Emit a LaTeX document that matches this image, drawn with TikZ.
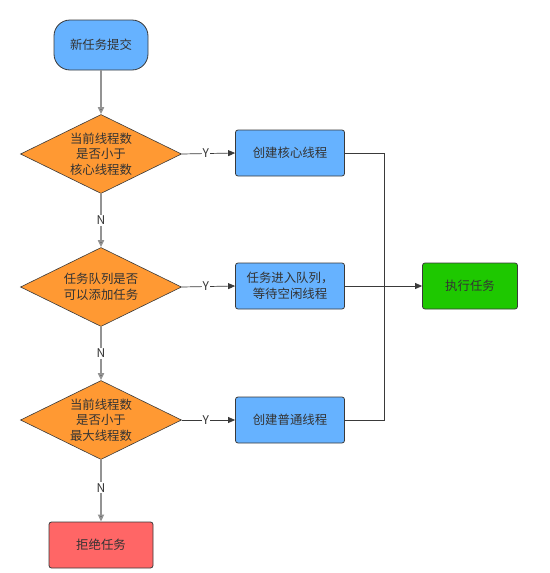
\documentclass[tikz,border=0pt]{standalone}
\usepackage{fontspec}
\setmainfont{Noto Sans CJK SC}
\usetikzlibrary{shapes.geometric,arrows.meta}
\definecolor{cblue}{HTML}{66B2FF}
\definecolor{corange}{HTML}{FF9933}
\definecolor{cgreen}{HTML}{1EC800}
\definecolor{cred}{HTML}{FF6666}
\definecolor{cedge}{HTML}{3A3A3A}
\definecolor{ctext}{HTML}{333333}
\begin{document}
\begin{tikzpicture}[x=1pt,y=-1pt,
  every node/.style={font=\fontsize{12.4}{15.5}\selectfont, text=ctext},
  boxstyle/.style={draw=cedge, line width=0.8pt, rounded corners=2.5pt, minimum width=109pt, minimum height=46pt, align=center, inner sep=0pt},
  decision/.style={diamond, draw=cedge, line width=0.6pt, fill=corange, minimum width=161pt, minimum height=79pt, aspect=2.04, inner sep=0pt, align=center},
  downarrow/.style={draw=gray!85, line width=1.6pt, -{Triangle[length=7pt,width=6pt,fill=cedge]}},
  flow/.style={draw=cedge, line width=0.7pt},
  flowarrow/.style={flow, -{Triangle[length=7pt,width=6pt]}},
  lbl/.style={fill=white, inner sep=1pt, font=\fontsize{12}{13}\selectfont}
]
\useasboundingbox (0,0) rectangle (549,573);
\node[boxstyle, fill=cblue, rounded corners=16pt, minimum width=94pt, minimum height=50pt] (start) at (101,45) {新任务提交};
\node[decision] (d1) at (101,154) {当前线程数\\是否小于\\核心线程数};
\node[decision] (d2) at (101,287) {任务队列是否\\可以添加任务};
\node[decision] (d3) at (101,420) {当前线程数\\是否小于\\最大线程数};
\node[boxstyle, fill=cblue] (b1) at (290,153) {创建核心线程};
\node[boxstyle, fill=cblue] (b2) at (290,286) {任务进入队列，\\等待空闲线程};
\node[boxstyle, fill=cblue] (b3) at (290,420) {创建普通线程};
\node[boxstyle, fill=cgreen, minimum width=95pt] (exec) at (470,286) {执行任务};
\node[boxstyle, fill=cred, minimum width=104pt] (rej) at (101,545) {拒绝任务};
\coordinate (j) at (384,286);

\draw[downarrow] (start) -- (d1);
\draw[downarrow] (d1) -- node[lbl] {N} (d2);
\draw[downarrow] (d2) -- node[lbl] {N} (d3);
\draw[downarrow] (d3) -- node[lbl, pos=0.45] {N} (rej);

\draw[flowarrow] (d1.east) -- node[lbl, pos=0.45] {Y} (b1.west);
\draw[flowarrow] (d2.east) -- node[lbl, pos=0.45] {Y} (b2.west);
\draw[flowarrow] (d3.east) -- node[lbl, pos=0.45] {Y} (b3.west);

\draw[flow] (b1.east) -| (j);
\draw[flow] (b3.east) -| (j);
\draw[flowarrow] (b2.east) -- (exec.west);
\end{tikzpicture}
\end{document}
